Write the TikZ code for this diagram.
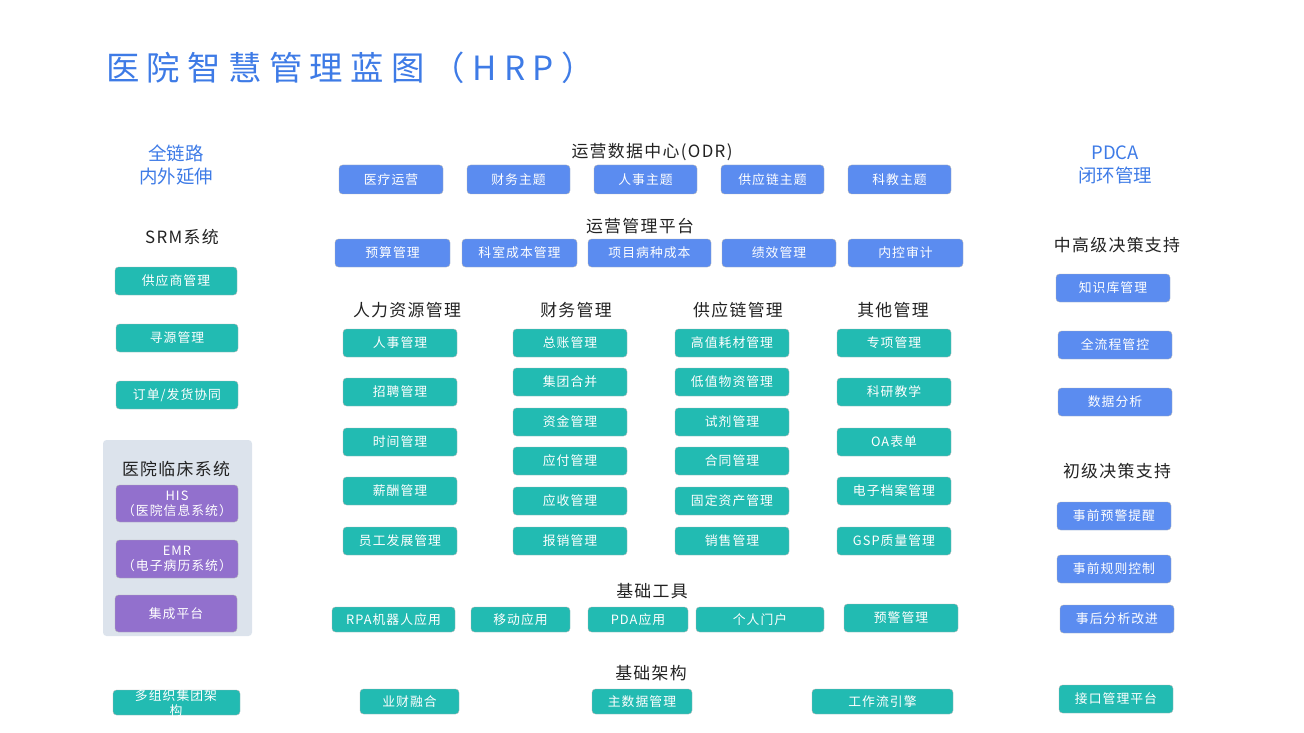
\documentclass[tikz,border=0pt]{standalone}
\usepackage{fontspec}
\setmainfont{Noto Sans CJK SC}
\definecolor{bb}{HTML}{5B8CF0}
\definecolor{tt}{HTML}{22BBB2}
\definecolor{pp}{HTML}{9270CD}
\definecolor{tb}{HTML}{3E7BE6}
\definecolor{gp}{HTML}{DCE3EC}
\definecolor{hd}{HTML}{222222}
\tikzset{
 base/.style={rounded corners=2pt,inner sep=0pt,text=white,font=\fontsize{7.3}{8.5}\selectfont\addfontfeature{LetterSpace=8},align=center,draw=white!70!black,line width=0.2pt},
 blu/.style={base,fill=bb},
 tea/.style={base,fill=tt},
 pur/.style={base,fill=pp},
 hdr/.style={font=\fontsize{9.6}{11}\selectfont\addfontfeature{LetterSpace=8},text=hd},
 bhdr/.style={font=\fontsize{10.5}{13}\selectfont,text=tb,align=center}
}
\newcommand\bx[7]{\node[#1,minimum width={(#4-#2)*0.02cm},minimum height={(#5-#3)*0.02cm}] (#7) at ({(#2+#4)/2},{(#3+#5)/2}) {#6};}
\begin{document}
\begin{tikzpicture}[x=0.02cm,y=-0.02cm]
\useasboundingbox (0,0) rectangle (1304,733);
\node[anchor=west,text=tb,font=\fontsize{19}{24}\selectfont\addfontfeature{LetterSpace=22}] (title) at (100,68) {医院智慧管理蓝图（HRP）};
% headers
\node[hdr] (h1) at (652,152) {运营数据中心(ODR)};
\node[hdr] (h2) at (640,226) {运营管理平台};
\node[bhdr] (l1) at (176,165) {全链路\\内外延伸};
\node[hdr] (srm) at (182,237) {SRM系统};
\node[bhdr] (r1) at (1115,165) {PDCA\\闭环管理};
\node[hdr] (r2) at (1117,245) {中高级决策支持};
\node[hdr] (r3) at (1117,471) {初级决策支持};
\node[hdr] (c1) at (407,310) {人力资源管理};
\node[hdr] (c2) at (576,310) {财务管理};
\node[hdr] (c3) at (738,310) {供应链管理};
\node[hdr] (c4) at (893,310) {其他管理};
\node[hdr] (f1) at (652,591) {基础工具};
\node[hdr] (f2) at (651,673) {基础架构};
% ODR
\bx{blu}{339}{165}{443}{194}{医疗运营}{o1}
\bx{blu}{467}{165}{570}{194}{财务主题}{o2}
\bx{blu}{594}{165}{697}{194}{人事主题}{o3}
\bx{blu}{721}{165}{824}{194}{供应链主题}{o4}
\bx{blu}{848}{165}{951}{194}{科教主题}{o5}
\bx{blu}{335}{239}{450}{267}{预算管理}{p1}
\bx{blu}{462}{239}{577}{267}{科室成本管理}{p2}
\bx{blu}{588}{239}{711}{267}{项目病种成本}{p3}
\bx{blu}{722}{239}{836}{267}{绩效管理}{p4}
\bx{blu}{848}{239}{963}{267}{内控审计}{p5}
% left
\bx{tea}{115}{267}{237}{295}{供应商管理}{s1}
\bx{tea}{116}{324}{238}{352}{寻源管理}{s2}
\bx{tea}{116}{381}{238}{409}{订单/发货协同}{s3}
\fill[gp,rounded corners=2pt] (103,440) rectangle (252,636);
\node[hdr] (clin) at (176,469) {医院临床系统};
\bx{pur}{116}{485}{238}{522}{HIS\\（医院信息系统）}{k1}
\bx{pur}{116}{540}{238}{578}{EMR\\（电子病历系统）}{k2}
\bx{pur}{115}{595}{237}{632}{集成平台}{k3}
\bx{tea}{113}{690}{240}{715}{}{m1}
\node[text=white,font=\fontsize{7.3}{8.5}\selectfont\addfontfeature{LetterSpace=8},align=center] (m1t) at (176,703) {多组织集团架\\构};
% columns
\bx{tea}{343}{329}{457}{357}{人事管理}{a1}
\bx{tea}{343}{378}{457}{406}{招聘管理}{a2}
\bx{tea}{343}{428}{457}{456}{时间管理}{a3}
\bx{tea}{343}{477}{457}{505}{薪酬管理}{a4}
\bx{tea}{343}{527}{457}{555}{员工发展管理}{a5}
\bx{tea}{513}{329}{627}{357}{总账管理}{b1}
\bx{tea}{513}{368}{627}{396}{集团合并}{b2}
\bx{tea}{513}{408}{627}{436}{资金管理}{b3}
\bx{tea}{513}{447}{627}{475}{应付管理}{b4}
\bx{tea}{513}{487}{627}{515}{应收管理}{b5}
\bx{tea}{513}{527}{627}{555}{报销管理}{b6}
\bx{tea}{675}{329}{789}{357}{高值耗材管理}{c1b}
\bx{tea}{675}{368}{789}{396}{低值物资管理}{c2b}
\bx{tea}{675}{408}{789}{436}{试剂管理}{c3b}
\bx{tea}{675}{447}{789}{475}{合同管理}{c4b}
\bx{tea}{675}{487}{789}{515}{固定资产管理}{c5b}
\bx{tea}{675}{527}{789}{555}{销售管理}{c6b}
\bx{tea}{837}{329}{951}{357}{专项管理}{d1}
\bx{tea}{837}{378}{951}{406}{科研教学}{d2}
\bx{tea}{837}{428}{951}{456}{OA表单}{d3}
\bx{tea}{837}{477}{951}{505}{电子档案管理}{d4}
\bx{tea}{837}{527}{951}{555}{GSP质量管理}{d5}
% tools
\bx{tea}{332}{607}{455}{632}{RPA机器人应用}{t1}
\bx{tea}{471}{607}{570}{632}{移动应用}{t2}
\bx{tea}{588}{607}{688}{632}{PDA应用}{t3}
\bx{tea}{696}{607}{824}{632}{个人门户}{t4}
\bx{tea}{844}{604}{958}{632}{预警管理}{t5}
\bx{tea}{360}{689}{459}{714}{业财融合}{u1}
\bx{tea}{592}{689}{692}{714}{主数据管理}{u2}
\bx{tea}{812}{689}{953}{714}{工作流引擎}{u3}
% right
\bx{blu}{1056}{274}{1170}{302}{知识库管理}{r4}
\bx{blu}{1058}{331}{1172}{359}{全流程管控}{r5}
\bx{blu}{1058}{388}{1172}{416}{数据分析}{r6}
\bx{blu}{1057}{502}{1171}{530}{事前预警提醒}{r7}
\bx{blu}{1057}{555}{1171}{583}{事前规则控制}{r8}
\bx{blu}{1060}{605}{1174}{633}{事后分析改进}{r9}
\bx{tea}{1059}{685}{1173}{713}{接口管理平台}{r10}
\end{tikzpicture}
\end{document}
